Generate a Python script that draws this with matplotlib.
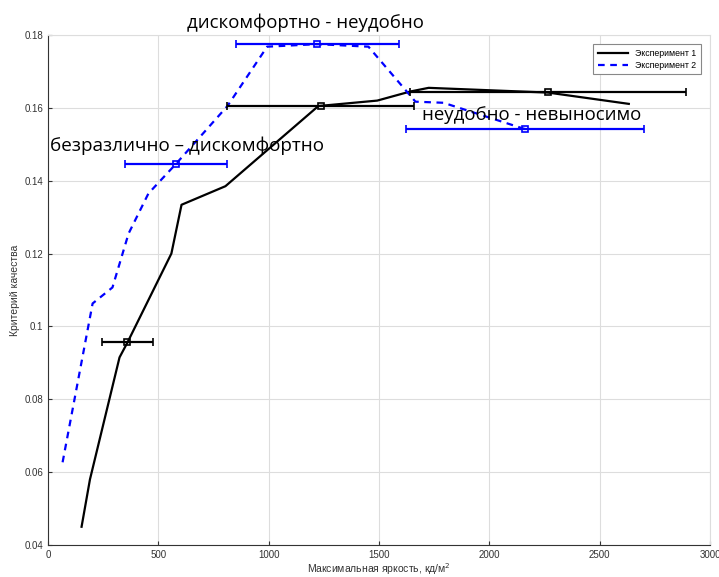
import numpy as np
import matplotlib
matplotlib.use('Agg')
import matplotlib.pyplot as plt

plt.rcParams['font.family'] = ['Liberation Sans', 'DejaVu Sans']

# Эксперимент 1
exp1_x = [152, 190, 324, 360, 559, 605, 804, 1225, 1492, 1642, 1725, 2266, 2632]
exp1_y = [0.045, 0.058, 0.0915, 0.0956, 0.120, 0.1334, 0.1385, 0.1605, 0.1620, 0.1645, 0.1655, 0.1642, 0.1611]
# Эксперимент 2
exp2_x = [66, 202, 292, 365, 455, 578, 813, 993, 1220, 1452, 1665, 1792, 2160]
exp2_y = [0.0627, 0.1063, 0.1107, 0.1255, 0.1365, 0.1445, 0.1605, 0.1768, 0.1775, 0.1768, 0.1617, 0.1614, 0.1542]

# error bars
err1_x = [360, 1235, 2266]
err1_y = [0.0956, 0.1605, 0.1644]
err1_dx = [115, 425, 627]
err2_x = [578, 1220, 2160]
err2_y = [0.1445, 0.1775, 0.1542]
err2_dx = [231, 370, 539]

labels = ['безразлично – дискомфортно', 'дискомфортно - неудобно', 'неудобно - невыносимо']

fig = plt.figure(figsize=(7.19, 5.77), dpi=100)
ax = fig.add_axes([0.0668, 0.0555, 0.9207, 0.8838])

l1, = ax.plot(exp1_x, exp1_y, '-', color='black', lw=1.6, label='Эксперимент 1')
l2, = ax.plot(exp2_x, exp2_y, '--', color='blue', lw=1.6, dashes=(3, 2.5), label='Эксперимент 2')

ax.errorbar(err1_x, err1_y, xerr=err1_dx, fmt='s', color='black', ms=4, mfc='none',
            mew=1.2, elinewidth=1.6, capsize=3, capthick=1.6)
ax.errorbar(err2_x, err2_y, xerr=err2_dx, fmt='s', color='blue', ms=4, mfc='none',
            mew=1.2, elinewidth=1.6, capsize=3, capthick=1.6)

ax.set_xlim(0, 3000)
ax.set_ylim(0.04, 0.18)
ax.set_xticks(np.arange(0, 3001, 500))
ax.set_yticks(np.arange(0.04, 0.181, 0.02))
ax.set_yticklabels(['0.04', '0.06', '0.08', '0.1', '0.12', '0.14', '0.16', '0.18'])
ax.grid(True, color='#dddddd', lw=0.8)
ax.set_axisbelow(True)
ax.tick_params(direction='in', labelsize=7, colors='#333333', length=3)
for s in ['bottom', 'left']:
    ax.spines[s].set_color('#333333')
for s in ['top', 'right']:
    ax.spines[s].set_color('#dddddd')

ax.set_xlabel('Максимальная яркость, кд/м$^2$', fontsize=7.5, color='#333333', labelpad=1)
ax.set_ylabel('Критерий качества', fontsize=7.5, color='#333333', labelpad=3)

tf = ['Open Sans', 'DejaVu Sans']
ax.text(11, 0.1496, labels[0], fontsize=13.6, family=tf, va='center', ha='left')
ax.text(1166, 0.1835, labels[1], fontsize=13.4, family=tf, va='center', ha='center', clip_on=False)
ax.text(1697, 0.158, labels[2], fontsize=13.4, family=tf, va='center', ha='left')

leg = ax.legend(handles=[l1, l2], loc='upper right', fontsize=6.3, fancybox=False,
                edgecolor='#888888', framealpha=1, handlelength=3.5, borderpad=0.5,
                labelspacing=0.35, bbox_to_anchor=(0.993, 0.99))
leg.get_frame().set_linewidth(0.8)

fig.savefig('out.png', dpi=100)
